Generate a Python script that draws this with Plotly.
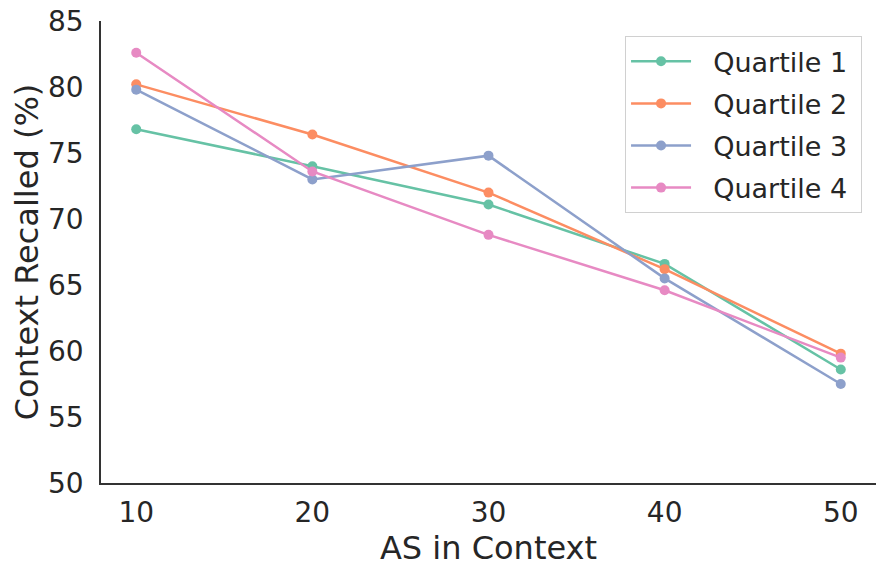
import plotly.graph_objects as go

# AS in context (x axis)
as_in_context = [10, 20, 30, 40, 50]

# context recalled (%) per quartile
quartile_1 = [76.8, 74.0, 71.1, 66.6, 58.6]
quartile_2 = [80.2, 76.4, 72.0, 66.2, 59.8]
quartile_3 = [79.8, 73.0, 74.8, 65.5, 57.5]
quartile_4 = [82.6, 73.6, 68.8, 64.6, 59.5]

series_names = ["Quartile 1", "Quartile 2", "Quartile 3", "Quartile 4"]
series_values = [quartile_1, quartile_2, quartile_3, quartile_4]
colors = ["#66c2a5", "#fc8d62", "#8da0cb", "#e78ac3"]

fig = go.Figure()
for name, values, color in zip(series_names, series_values, colors):
    fig.add_trace(go.Scatter(
        x=as_in_context,
        y=values,
        name="\u00a0\u00a0" + name + "\u00a0",
        legendgroup=name,
        mode="lines+markers",
        line=dict(color=color, width=2.5),
        marker=dict(color=color, size=10),
    ))

font_family = "DejaVu Sans"
text_color = "#262626"

# the page body adds an 8px offset, so the figure is 8px smaller than the window
fig.update_layout(
    width=877,
    height=566,
    margin=dict(l=93, r=9, t=13, b=91),
    plot_bgcolor="white",
    paper_bgcolor="white",
    font=dict(family=font_family, size=28, color=text_color),
    showlegend=True,
    legend=dict(
        x=0.982, y=0.967, xanchor="right", yanchor="top",
        bgcolor="white", bordercolor="#d0d0d0", borderwidth=1,
        font=dict(size=27, color=text_color),
        itemwidth=60,
        tracegroupgap=4,
    ),
)

fig.update_xaxes(
    range=[8, 52],
    tickvals=as_in_context,
    showgrid=False,
    zeroline=False,
    showline=True,
    linecolor="#333333",
    linewidth=1.5,
    ticks="",
    ticklabelstandoff=4,
    ticklabeloverflow="allow",
    automargin=False,
    title=dict(text="AS in Context", font=dict(size=32), standoff=8),
)
fig.update_yaxes(
    range=[50, 85],
    dtick=5,
    showgrid=False,
    zeroline=False,
    showline=True,
    linecolor="#333333",
    linewidth=1.5,
    ticks="",
    ticklabelstandoff=10,
    ticklabeloverflow="allow",
    automargin=False,
    title=dict(text="Context Recalled (%)", font=dict(size=32), standoff=4),
)

fig.write_html("out.html")
